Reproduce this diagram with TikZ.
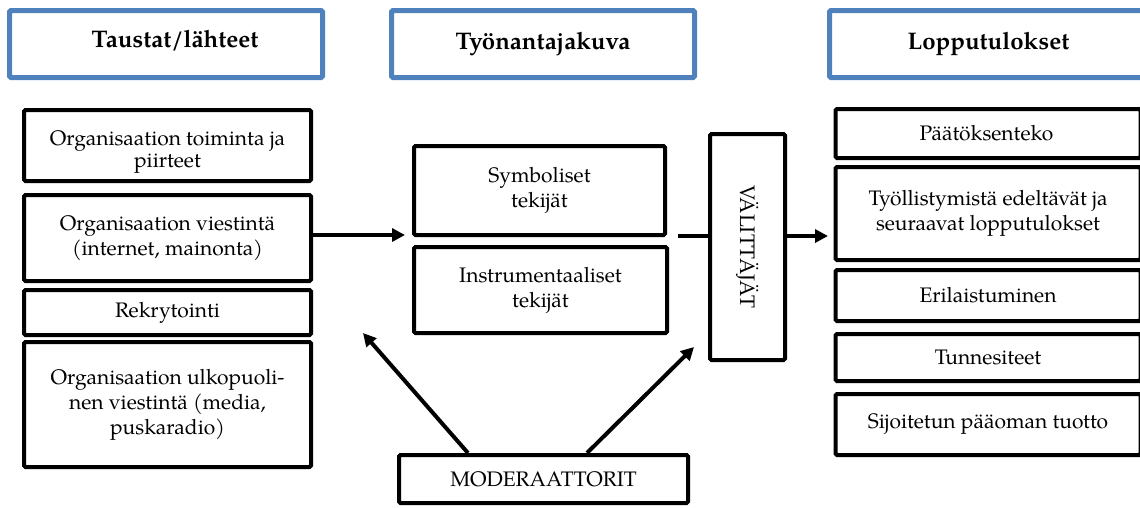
\documentclass[tikz,border=0pt]{standalone}
\usepackage{fontspec}
\setmainfont{TeX Gyre Pagella}
\usetikzlibrary{arrows.meta}
\definecolor{headblue}{RGB}{79,129,189}
\tikzset{
  head/.style={draw=headblue, line width=5pt, rounded corners=1.5pt, fill=white,
    font=\fontsize{24}{28}\selectfont\bfseries, inner sep=0pt},
  bbox/.style={draw=black, line width=4pt, rounded corners=1.5pt, fill=white,
    font=\fontsize{21}{25}\selectfont, align=center, inner sep=0pt},
  arr/.style={line width=4pt, -{Triangle[length=13pt,width=13pt]}},
  plain/.style={line width=4pt}
}
\begin{document}
\begin{tikzpicture}[x=1pt,y=-1pt]
\useasboundingbox (0,0) rectangle (1140,507);

% column headings
\node[head, minimum width=313pt, minimum height=67pt] (hl) at (166,44) {\hspace*{18pt}\raisebox{11pt}{Taustat/lähteet}};
\node[head, minimum width=303pt, minimum height=67pt] (hm) at (543,44) {Työnantajakuva};
\node[head, minimum width=318pt, minimum height=67pt] (hr) at (988.5,44) {Lopputulokset};

% sources
\node[bbox, minimum width=287pt, minimum height=71pt] (b1) at (167.5,145.5)
  {\raisebox{-6pt}[\height][\depth]{\begin{tabular}{@{}c@{}}Organisaation toiminta ja\\[-3pt]piirteet\end{tabular}}};
\node[bbox, minimum width=287pt, minimum height=86pt] (b2) at (167.5,238) {Organisaation viestintä\\(internet, mainonta)};
\node[bbox, minimum width=287pt, minimum height=45pt] (b3) at (167.5,312.5) {Rekrytointi};
\node[bbox, minimum width=287pt, minimum height=125pt] (b4) at (167.5,404.5) {Organisaation ulkopuoli-\\nen viestintä (media,\\puskaradio)};

% employer image
\node[bbox, minimum width=251pt, minimum height=89pt] (sym) at (539.5,190.5) {Symboliset\\tekijät};
\node[bbox, minimum width=253pt, minimum height=86pt] (ins) at (540.5,290) {Instrumentaaliset\\tekijät};
\node[bbox, minimum width=75pt, minimum height=226pt] (val) at (747.5,247) {};
\node[rotate=-90, font=\fontsize{21}{25}\selectfont] (valt) at (val.center) {VÄLITTÄJÄT};

% outcomes
\node[bbox, minimum width=305pt, minimum height=49pt] (r1) at (988,133.5) {\hspace*{-3pt}Päätöksenteko};
\node[bbox, minimum width=305pt, minimum height=93pt] (r2) at (988,213.5) {Työllistymistä edeltävät ja\\seuraavat lopputulokset};
\node[bbox, minimum width=305pt, minimum height=51pt] (r3) at (988,295.5) {Erilaistuminen};
\node[bbox, minimum width=305pt, minimum height=47pt] (r4) at (988,357.5) {Tunnesiteet};
\node[bbox, minimum width=305pt, minimum height=61pt] (r5) at (988,424.5) {\raisebox{6pt}{Sijoitetun pääoman tuotto}};

% moderators
\node[bbox, minimum width=289pt, minimum height=48pt] (mod) at (543.5,479) {MODERAATTORIT};

% connector end points
\coordinate (midin) at (405,235);
\coordinate (midout) at (678,236);
\coordinate (resin) at (828,236);
\coordinate (modl) at (363,333);
\coordinate (modr) at (694,347);

% connectors
\draw[arr] (b2.east |- midin) -- (midin);
\draw[plain] (midout) -- (midout -| val.west);
\draw[arr] (val.east |- resin) -- (resin);
\draw[arr] ([xshift=-75.5pt]mod.north) -- (modl);
\draw[arr] ([xshift=43.5pt]mod.north) -- (modr);
\end{tikzpicture}
\end{document}
